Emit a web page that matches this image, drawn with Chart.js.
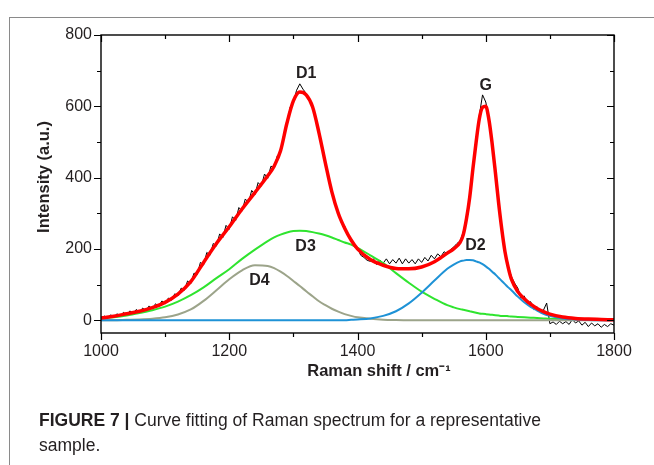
<!DOCTYPE html>
<html>
<head>
<meta charset="utf-8">
<script src="https://cdn.jsdelivr.net/npm/chart.js@4.4.1/dist/chart.umd.min.js"></script>
<style>
  body { margin: 0; background: #fff; }
  #wrap { position: relative; width: 654px; height: 465px; overflow: hidden; }
  #frame { position: absolute; left: 9px; top: 17px; width: 660px; height: 460px;
           border-top: 1px solid #8a8a8a; border-left: 1px solid #8a8a8a; }
  #chart { position: absolute; left: 0; top: 0; }
  #caption { position: absolute; left: 39px; top: 408px; width: 610px;
             font-family: "Liberation Sans", Arial, sans-serif; font-size: 17.5px;
             line-height: 25px; color: #231f20; }
  #caption b { font-weight: bold; }
</style>
</head>
<body>
<div id="wrap">
  <div id="frame"></div>
  <canvas id="chart" width="654" height="465"></canvas>
  <div id="caption"><b>FIGURE 7 |</b> Curve fitting of Raman spectrum for a representative<br>sample.</div>
</div>
<script>
// measured spectrum (black), every 5 cm-1
const rawShift = [
  1000, 1005, 1010, 1015, 1020, 1025, 1030, 1035, 1040, 1045,
  1050, 1055, 1060, 1065, 1070, 1075, 1080, 1085, 1090, 1095,
  1100, 1105, 1110, 1115, 1120, 1125, 1130, 1135, 1140, 1145,
  1150, 1155, 1160, 1165, 1170, 1175, 1180, 1185, 1190, 1195,
  1200, 1205, 1210, 1215, 1220, 1225, 1230, 1235, 1240, 1245,
  1250, 1255, 1260, 1265, 1270, 1275, 1280, 1285, 1290, 1295,
  1300, 1305, 1310, 1315, 1320, 1325, 1330, 1335, 1340, 1345,
  1350, 1355, 1360, 1365, 1370, 1375, 1380, 1385, 1390, 1395,
  1400, 1405, 1410, 1415, 1420, 1425, 1430, 1435, 1440, 1445,
  1450, 1455, 1460, 1465, 1470, 1475, 1480, 1485, 1490, 1495,
  1500, 1505, 1510, 1515, 1520, 1525, 1530, 1535, 1540, 1545,
  1550, 1555, 1560, 1565, 1570, 1575, 1580, 1585, 1590, 1595,
  1600, 1605, 1610, 1615, 1620, 1625, 1630, 1635, 1640, 1645,
  1650, 1655, 1660, 1665, 1670, 1675, 1680, 1685, 1690, 1695,
  1700, 1705, 1710, 1715, 1720, 1725, 1730, 1735, 1740, 1745,
  1750, 1755, 1760, 1765, 1770, 1775, 1780, 1785, 1790, 1795,
  1800
];
const rawIntensity = [
  2, 12, 4, 15, 9, 18, 11, 22, 14, 26,
  19, 30, 22, 34, 26, 40, 31, 46, 38, 54,
  46, 62, 56, 74, 68, 90, 84, 110, 102, 132,
  128, 162, 155, 190, 182, 215, 208, 242, 232, 266,
  255, 290, 280, 316, 306, 340, 330, 364, 352, 386,
  376, 410, 398, 432, 428, 462, 470, 522, 548, 598,
  612, 645, 663, 648, 636, 615, 602, 560, 530, 476,
  446, 392, 366, 322, 306, 272, 264, 236, 230, 206,
  203, 182, 176, 168, 165, 172, 156, 168, 160, 172,
  158, 170, 160, 174, 158, 172, 160, 170, 158, 172,
  162, 176, 166, 182, 172, 186, 178, 192, 186, 198,
  205, 215, 222, 248, 290, 352, 430, 508, 575, 632,
  612, 568, 500, 418, 335, 258, 196, 154, 122, 104,
  90, 62, 68, 45, 52, 30, 38, 22, 28, 48,
  -10, -5, -12, -3, -10, -4, -12, 2, -8, -2,
  -14, -6, -18, -8, -16, -10, -20, -12, -18, -10,
  -14
];

// fitted curves
const fitShift = [
  1000, 1020, 1040, 1060, 1080, 1100, 1120, 1140, 1160, 1180, 1200, 1220, 1240, 1260,
  1270, 1280, 1290, 1300, 1310, 1320, 1330, 1340, 1350, 1360, 1370, 1380, 1390, 1400,
  1420, 1440, 1460, 1480, 1500, 1520, 1540, 1550, 1560,
  1565, 1570, 1575, 1580, 1585, 1590, 1595, 1600, 1605, 1610, 1615, 1620, 1625, 1630, 1635, 1640,
  1650, 1660, 1670, 1680, 1690, 1700, 1720, 1740, 1760, 1780, 1800
];
const fitTotal = [
  6, 11, 18, 25, 35, 50, 73, 108, 162, 215, 262, 312, 358, 405,
  432, 475, 553, 615, 640, 632, 598, 525, 440, 360, 300, 258, 225, 200,
  170, 154, 145, 144, 149, 164, 188, 200, 218,
  240, 285, 345, 425, 500, 565, 597, 600, 562, 495, 415, 330, 255, 192, 148, 115,
  80, 60, 45, 33, 24, 17, 9, 5, 3, 2, 1
];
const fitD3 = [
  5, 8, 13, 20, 28, 38, 52, 70, 92, 118, 143, 172, 198, 222,
  232, 240, 246, 250, 251, 250, 247, 243, 238, 232, 225, 218, 212, 203,
  182, 160, 132, 105, 80, 60, 42, 36, 31,
  29, 27, 25, 23, 21, 19, 18, 17, 16, 15, 14, 13, 12, 12, 11, 10,
  9, 8, 7, 6, 5, 4, 3, 2, 2, 1, 1
];
const fitD4 = [
  0, 0, 1, 2, 4, 8, 16, 30, 54, 84, 115, 140, 154, 152,
  146, 136, 124, 110, 96, 81, 67, 53, 42, 32, 24, 17, 12, 8,
  4, 1.5, 0.5, 0, 0, 0, 0, 0, 0,
  0, 0, 0, 0, 0, 0, 0, 0, 0, 0, 0, 0, 0, 0, 0, 0,
  0, 0, 0, 0, 0, 0, 0, 0, 0, 0, 0
];
const fitD2 = [
  0, 0, 0, 0, 0, 0, 0, 0, 0, 0, 0, 0, 0, 0,
  0, 0, 0, 0, 0, 0, 0, 0, 0, 0, 0, 0, 1, 2,
  5, 12, 25, 47, 77, 111, 144, 156, 165,
  167, 169, 169, 168, 165, 162, 157, 151, 144, 136, 128, 119, 110, 101, 92, 84,
  66, 50, 37, 27, 18, 12, 5, 2, 0.5, 0, 0
];

// band labels
const bandNames = ["D1", "G", "D2", "D3", "D4"];
const bandX = [1320, 1600, 1584, 1319, 1247];
const bandY = [691, 657, 208, 205, 112];

const xTicks = [1000, 1100, 1200, 1300, 1400, 1500, 1600, 1700, 1800];
const yTicks = [0, 100, 200, 300, 400, 500, 600, 700, 800];

const pts = (xs, ys) => xs.map((x, i) => ({ x: x, y: ys[i] }));

const INK = "#231f20";

// frame, ticks on all four sides, band names and axis titles
const framePlugin = {
  id: "frame",
  afterDraw(chart) {
    const { ctx, chartArea: a, scales } = chart;
    const xs = scales.x, ys = scales.y;
    ctx.save();
    ctx.strokeStyle = "#000";
    ctx.lineWidth = 1.4;
    ctx.strokeRect(a.left, a.top, a.right - a.left, a.bottom - a.top);
    ctx.lineWidth = 1.2;
    ctx.beginPath();
    xTicks.forEach((v) => {
      const px = Math.round(xs.getPixelForValue(v)) + 0.5;
      const len = v % 200 === 0 ? 7 : 4;
      ctx.moveTo(px, a.bottom); ctx.lineTo(px, a.bottom + len);
      ctx.moveTo(px, a.top); ctx.lineTo(px, a.top + len);
    });
    yTicks.forEach((v) => {
      const py = Math.round(ys.getPixelForValue(v)) + 0.5;
      const len = v % 200 === 0 ? 7 : 4;
      ctx.moveTo(a.left - len, py); ctx.lineTo(a.left, py);
      ctx.moveTo(a.right - len, py); ctx.lineTo(a.right, py);
    });
    ctx.stroke();

    ctx.fillStyle = INK;
    ctx.textAlign = "center";
    ctx.textBaseline = "middle";
    ctx.font = "bold 16px 'Liberation Sans', Arial, sans-serif";
    bandNames.forEach((name, i) => {
      ctx.fillText(name, xs.getPixelForValue(bandX[i]), ys.getPixelForValue(bandY[i]));
    });

    ctx.font = "bold 16.5px 'Liberation Sans', Arial, sans-serif";
    ctx.fillText("Raman shift / cm\u207B\u00B9", 379, 371);
    ctx.translate(44, 177);
    ctx.rotate(-Math.PI / 2);
    ctx.fillText("Intensity (a.u.)", 0, 0);
    ctx.restore();
  },
};

const line = (label, xs, ys, color, width, order, smooth) => ({
  label: label,
  data: pts(xs, ys),
  borderColor: color,
  borderWidth: width,
  pointRadius: 0,
  fill: false,
  order: order,
  tension: smooth ? 0.4 : 0,
  cubicInterpolationMode: smooth ? "monotone" : "default",
});

document.addEventListener("DOMContentLoaded", () => {
  new Chart(document.getElementById("chart"), {
    type: "line",
    data: {
      datasets: [
        line("Fit", fitShift, fitTotal, "#ff0000", 3.5, 0, true),
        line("D2", fitShift, fitD2, "#1e92d6", 2, 1, true),
        line("D4", fitShift, fitD4, "#9ca48a", 2, 2, true),
        line("D3", fitShift, fitD3, "#2fe42f", 2, 3, true),
        line("Spectrum", rawShift, rawIntensity, "#000000", 1, 4, false),
      ],
    },
    options: {
      responsive: false,
      devicePixelRatio: 1,
      animation: false,
      parsing: false,
      layout: { padding: { top: 35, right: 40, bottom: 86, left: 0 } },
      plugins: { legend: { display: false }, tooltip: { enabled: false } },
      scales: {
        x: {
          type: "linear",
          min: 1000,
          max: 1800,
          afterFit: (s) => { s.height = 46; },
          border: { display: false },
          grid: { drawOnChartArea: false, tickLength: 7, tickColor: "rgba(0,0,0,0)" },
          ticks: {
            stepSize: 100,
            autoSkip: false,
            maxRotation: 0,
            padding: 2,
            color: INK,
            font: { family: "'Liberation Sans', Arial, sans-serif", size: 16 },
            callback: (v) => (v % 200 === 0 ? String(v) : ""),
          },
        },
        y: {
          min: -36,
          max: 800,
          afterFit: (s) => { s.width = 101; },
          border: { display: false },
          grid: { drawOnChartArea: false, tickLength: 7, tickColor: "rgba(0,0,0,0)" },
          ticks: {
            stepSize: 100,
            includeBounds: false,
            padding: 2,
            color: INK,
            font: { family: "'Liberation Sans', Arial, sans-serif", size: 16 },
            callback: (v) => (v >= 0 && v % 200 === 0 ? String(v) : ""),
          },
        },
      },
    },
    plugins: [framePlugin],
  });
});
</script>
</body>
</html>
